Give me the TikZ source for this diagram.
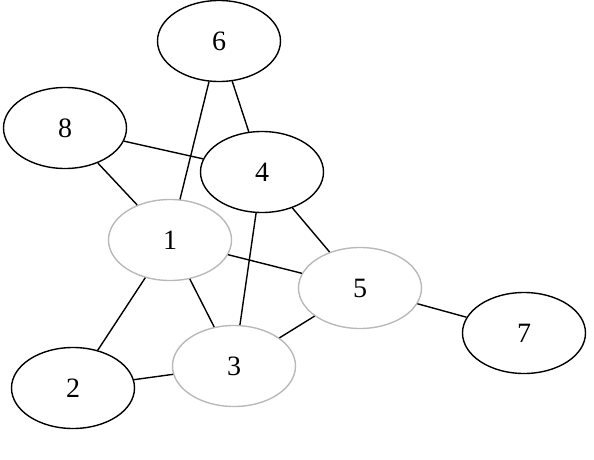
\documentclass[tikz,border=0pt]{standalone}
\usepackage{fontspec}
\setmainfont{Liberation Serif}
\usetikzlibrary{shapes.geometric}
\definecolor{lightgraynode}{RGB}{185,185,185}
\tikzset{
  vertex/.style={ellipse, draw=black, line width=1.4pt, minimum width=123pt, minimum height=81pt, inner sep=0pt, font=\fontsize{28}{30}\selectfont},
  grayvertex/.style={vertex, draw=lightgraynode},
  edge/.style={line width=1.4pt, black}
}
\begin{document}
\begin{tikzpicture}[x=1pt,y=1pt]
\useasboundingbox (0,0) rectangle (594,459);
\node[vertex] (n6) at (219,418) {6};
\node[vertex] (n8) at (65,331) {8};
\node[vertex] (n4) at (262,287) {4};
\node[grayvertex] (n1) at (170,219) {1};
\node[grayvertex] (n5) at (360,171) {5};
\node[vertex] (n7) at (524,126) {7};
\node[grayvertex] (n3) at (234,93) {3};
\node[vertex] (n2) at (73,71) {2};
\draw[edge] (n8) -- (n4);
\draw[edge] (n8) -- (n1);
\draw[edge] (n6) -- (n1);
\draw[edge] (n6) -- (n4);
\draw[edge] (n4) -- (n3);
\draw[edge] (n4) -- (n5);
\draw[edge] (n1) -- (n5);
\draw[edge] (n1) -- (n2);
\draw[edge] (n1) -- (n3);
\draw[edge] (n5) -- (n3);
\draw[edge] (n5) -- (n7);
\draw[edge] (n2) -- (n3);
\end{tikzpicture}
\end{document}
